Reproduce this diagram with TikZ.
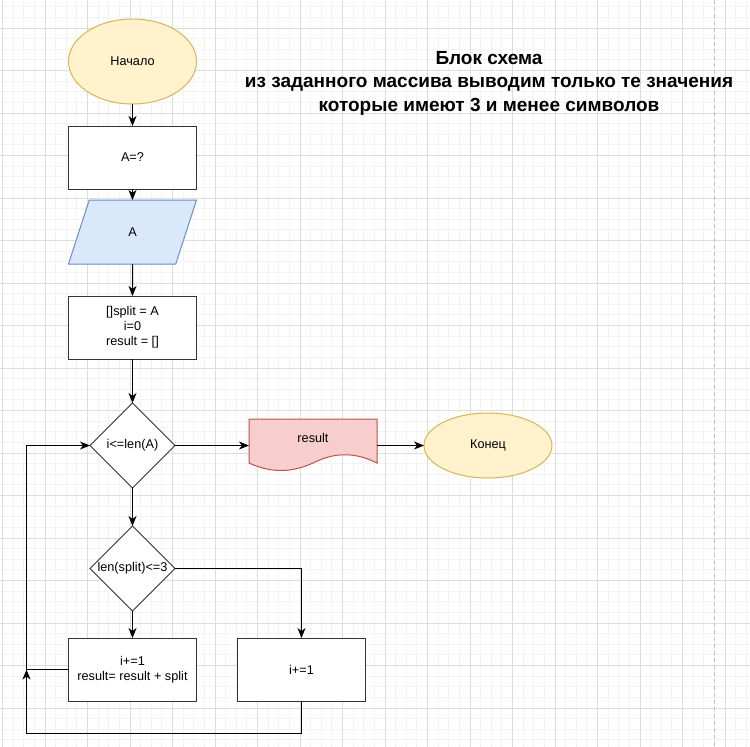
\documentclass[tikz,border=0pt]{standalone}
\usepackage{fontspec}
\setmainfont{Liberation Sans}
\usetikzlibrary{positioning,shapes.geometric,arrows.meta}
\definecolor{termfill}{HTML}{FFF2CC}
\definecolor{termline}{HTML}{D6B656}
\definecolor{iofill}{HTML}{DAE8FC}
\definecolor{ioline}{HTML}{6C8EBF}
\definecolor{docfill}{HTML}{F8CECC}
\definecolor{docline}{HTML}{B85450}
\definecolor{gridminor}{HTML}{F3F3F3}
\definecolor{gridmajor}{HTML}{DDDDDD}
\tikzset{
  every node/.style={font=\fontsize{12.7}{15}\selectfont, outer sep=0pt, inner sep=2pt},
  term/.style={ellipse, draw=termline, fill=termfill, line width=1pt, minimum width=128pt},
  proc/.style={rectangle, draw=black!80, fill=white, line width=1pt, minimum width=128pt, minimum height=63pt, align=center},
  io/.style={trapezium, trapezium left angle=72, trapezium right angle=108, draw=ioline, fill=iofill,
    line width=1pt, inner xsep=39pt, inner ysep=27.4pt, text height=9.2pt, text depth=0pt},
  cond/.style={diamond, draw=black!80, fill=white, line width=1pt, minimum width=85pt, minimum height=85pt, inner sep=0pt},
  flow/.style={draw=black, line width=1pt, -{Stealth[length=10pt, width=8pt, inset=3pt]}},
}
\begin{document}
\begin{tikzpicture}[x=1pt, y=-1pt]
\useasboundingbox[fill=white] (0,0) rectangle (750,747);
\foreach \i in {0,...,70} \draw[gridminor, line width=0.8pt] ({2.5+10.625*\i},0) -- ++(0,747);
\foreach \j in {0,...,69} \draw[gridminor, line width=0.8pt] (0,{6.75+10.625*\j}) -- ++(750,0);
\foreach \i in {0,...,17} \draw[gridmajor, line width=0.8pt] ({2.5+42.5*\i},0) -- ++(0,747);
\foreach \j in {0,...,16} \draw[gridmajor, line width=0.8pt] (0,{28+42.5*\j}) -- ++(750,0);
\draw[black!25, line width=0.8pt, dash pattern=on 4pt off 3pt] (714,0) -- (714,747);

\node[font=\bfseries\fontsize{19}{23.5}\selectfont, align=center] (title) at (489,83)
  {Блок схема\\из заданного массива выводим только те значения\\которые имеют 3 и менее символов};

\draw[docline, fill=docfill, line width=1pt] (249,419) -- (377,419) -- (377,463)
  .. controls (355,452) and (335,452) .. (313,463)
  .. controls (291,473) and (271,473) .. (249,463) -- cycle;

\node[term, minimum height=85pt] (start) at (132.5,61.5) {Начало};
\node[proc, below=22pt of start] (ask) {A=?};
\node[io, below=11pt of ask] (inp) {A};
\node[proc, below=32pt of inp] (init) {[]split = A\\i=0\\result = []};
\node[cond, below=44pt of init] (chk) {\makebox[0pt]{i<=len(A)}};
\node[cond, below=38pt of chk] (len) {\makebox[0pt]{len(split)<=3}};
\node[proc, below=27pt of len] (add) {i+=1\\result= result + split};
\node[proc, right=41pt of add] (inc) {i+=1};
\node[minimum width=128pt, minimum height=52pt, right=74pt of chk, label={[yshift=8pt]center:result}] (res) {};
\node[term, minimum height=65pt, right=47pt of res] (stop) {Конец};
\coordinate[left=42pt of add] (j);

\draw[flow] (start) -- (ask);
\draw[flow] (ask) -- (inp);
\draw[flow] (inp) -- (init);
\draw[flow] (init) -- (chk);
\draw[flow] (chk) -- (res);
\draw[flow] (res) -- (stop);
\draw[flow] (chk) -- (len);
\draw[flow] (len) -- (add);
\draw[flow] (len) -| (inc);
\draw[flow] (add) -- (j) |- (chk);
\draw[flow] (inc.south) -- ++(0,32) -| (j);
\end{tikzpicture}
\end{document}
